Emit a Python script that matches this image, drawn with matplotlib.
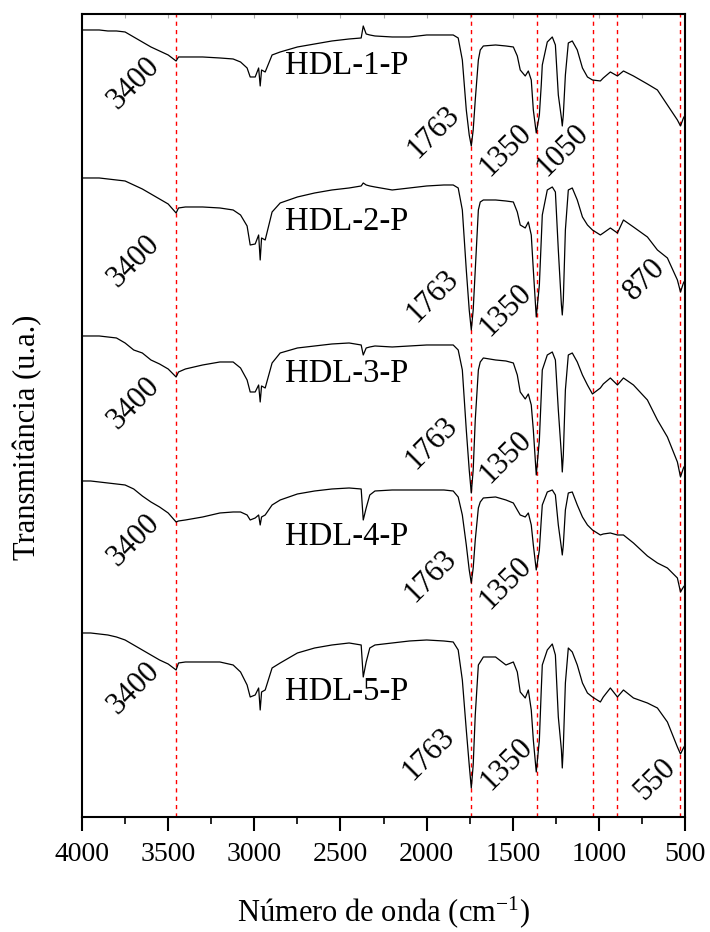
import matplotlib
matplotlib.use("Agg")
import matplotlib.pyplot as plt
from matplotlib.ticker import MultipleLocator

plt.rcParams['font.family'] = ['Liberation Serif', 'DejaVu Serif']
plt.rcParams['mathtext.fontset'] = 'stix'

# wavenumber grid (cm-1) shared by all spectra
wavenumber = [4000, 3950, 3900, 3850, 3800, 3750, 3700, 3650, 3600, 3550, 3500,
              3454, 3440, 3400, 3300, 3200, 3123, 3080, 3042, 3024, 2995,
              2975, 2966, 2958, 2937, 2897, 2850, 2750, 2650, 2550, 2450,
              2380, 2368, 2351, 2330, 2300, 2200, 2100, 2000, 1900, 1846,
              1817, 1793, 1770, 1753, 1741, 1730, 1718, 1700, 1689, 1671,
              1600, 1540, 1497, 1474, 1457, 1428, 1410, 1393, 1381, 1364,
              1346, 1335, 1329, 1300, 1271, 1253, 1236, 1218, 1213, 1207,
              1195, 1178, 1155, 1126, 1096, 1067, 1038, 992, 975, 934,
              893, 858, 800, 719, 661, 603, 545, 527, 510, 500]

# stacked transmittance (a.u.)
hdl1 = [787, 787, 787, 786, 786, 785, 780, 775, 770, 766, 762,
        756, 760, 760, 760, 759, 758, 755, 749, 740, 740,
        749, 731, 747, 745, 762, 765, 770, 773, 776, 778,
        779, 791, 783, 782, 781, 780, 780, 782, 782, 782,
        779, 757, 707, 682, 671, 687, 717, 757, 767, 771,
        772, 771, 770, 761, 747, 741, 746, 737, 707, 684,
        702, 732, 752, 775, 780, 772, 722, 699, 691, 702,
        742, 774, 776, 767, 749, 740, 737, 736, 739, 745,
        741, 746, 741, 733, 727, 712, 697, 691, 699, 702]
hdl2 = [639, 639, 639, 638, 637, 636, 632, 628, 623, 618, 613,
        604, 609, 610, 610, 609, 607, 602, 591, 572, 573,
        582, 557, 579, 577, 605, 614, 620, 624, 627, 629,
        631, 634, 632, 631, 630, 627, 629, 631, 632, 632,
        629, 607, 547, 507, 487, 507, 547, 607, 615, 617,
        617, 616, 615, 605, 592, 589, 595, 582, 547, 500,
        532, 577, 602, 627, 630, 625, 567, 512, 502, 517,
        587, 627, 629, 617, 600, 592, 587, 582, 584, 589,
        584, 597, 590, 580, 567, 559, 537, 525, 534, 537]
hdl3 = [481, 481, 481, 480, 479, 474, 467, 464, 457, 453, 448,
        440, 445, 448, 452, 455, 455, 449, 437, 425, 425,
        432, 415, 431, 429, 454, 464, 469, 471, 473, 474,
        472, 462, 469, 470, 471, 470, 471, 472, 472, 472,
        467, 447, 387, 347, 324, 347, 397, 447, 455, 459,
        457, 456, 454, 442, 425, 418, 423, 412, 387, 342,
        377, 422, 447, 462, 465, 457, 407, 362, 345, 362,
        427, 462, 464, 455, 442, 432, 423, 429, 433, 439,
        432, 439, 432, 417, 397, 380, 355, 340, 349, 352]
hdl4 = [336, 336, 335, 334, 333, 332, 328, 321, 315, 310, 304,
        295, 296, 297, 300, 304, 305, 305, 302, 297, 299,
        302, 292, 300, 302, 312, 317, 323, 326, 328, 329,
        328, 297, 309, 322, 326, 327, 327, 327, 327, 326,
        320, 302, 272, 247, 234, 249, 277, 309, 315, 319,
        320, 317, 314, 307, 302, 300, 304, 292, 272, 247,
        267, 297, 312, 325, 327, 322, 292, 269, 262, 272,
        307, 324, 325, 312, 300, 292, 287, 282, 283, 284,
        282, 282, 274, 261, 254, 249, 239, 225, 230, 232]
hdl5 = [184, 184, 183, 182, 180, 177, 172, 167, 162, 157, 153,
        147, 154, 155, 155, 155, 152, 145, 132, 120, 122,
        129, 107, 125, 127, 149, 154, 164, 169, 172, 174,
        172, 140, 155, 169, 172, 174, 176, 177, 176, 175,
        167, 137, 87, 52, 29, 52, 102, 152, 155, 160,
        160, 152, 155, 145, 125, 119, 127, 107, 77, 45,
        77, 127, 152, 167, 173, 162, 100, 67, 49, 70,
        134, 169, 165, 152, 134, 124, 120, 115, 120, 129,
        120, 127, 119, 114, 109, 95, 70, 63, 69, 72]

spectra = [hdl1, hdl2, hdl3, hdl4, hdl5]
names = ['HDL-1-P', 'HDL-2-P', 'HDL-3-P', 'HDL-4-P', 'HDL-5-P']
name_y = [751, 595, 443, 280, 125]

# band markers
bands = [3454, 1741, 1360, 1037, 897, 527]

# peak annotations: (text, wavenumber, y)
peak_labels = [
    ('3400', 3698, 734), ('3400', 3698, 556), ('3400', 3698, 414),
    ('3400', 3698, 277), ('3400', 3698, 129),
    ('1763', 1962, 685), ('1763', 1968, 521), ('1763', 1973, 374),
    ('1763', 1979, 241), ('1763', 1991, 63),
    ('1350', 1544, 667), ('1350', 1544, 507), ('1350', 1544, 360),
    ('1350', 1544, 234), ('1350', 1538, 53),
    ('1050', 1213, 667), ('870', 737, 537), ('550', 673, 37),
]

fig = plt.figure(figsize=(7.1, 9.32), dpi=100)
ax = fig.add_axes([0.1155, 0.1234, 0.8495, 0.8616])

for wn in bands:
    ax.axvline(wn, color='red', lw=1.0, ls=(0, (3, 3)), zorder=1)

for y in spectra:
    ax.plot(wavenumber, y, color='black', lw=0.9, zorder=2)

for name, yy in zip(names, name_y):
    ax.text(2821, yy, name, fontsize=23.5, ha='left', va='center')

for txt, wn, yy in peak_labels:
    ax.text(wn, yy, txt, fontsize=22, rotation=45, ha='center', va='center',
            rotation_mode='anchor')

ax.set_xlim(4000, 500)
ax.set_ylim(0, 803)
ax.xaxis.set_major_locator(MultipleLocator(500))
ax.xaxis.set_minor_locator(MultipleLocator(250))
ax.set_yticks([])
ax.tick_params(axis='x', which='major', direction='out', length=10, width=1.5,
               labelsize=20, pad=8)
ax.tick_params(axis='x', which='minor', direction='out', length=5, width=1.2)

# faint inward ticks along the top
top = ax.secondary_xaxis('top')
top.xaxis.set_major_locator(MultipleLocator(250))
top.tick_params(axis='x', which='major', direction='in', length=3, width=0.8,
                color='#aaaaaa', labeltop=False)
top.tick_params(axis='x', which='minor', length=0)
top.spines['top'].set_visible(False)

for s in ax.spines.values():
    s.set_linewidth(1.5)

ax.set_xlabel('Número de onda (cm$^{\\mathregular{-1}}$)', fontsize=22)
ax.xaxis.set_label_coords(0.5, -0.096)
ax.set_ylabel('Transmitância (u.a.)', fontsize=22)
ax.yaxis.set_label_coords(-0.066, 0.473)

fig.savefig('out.png', dpi=100)
